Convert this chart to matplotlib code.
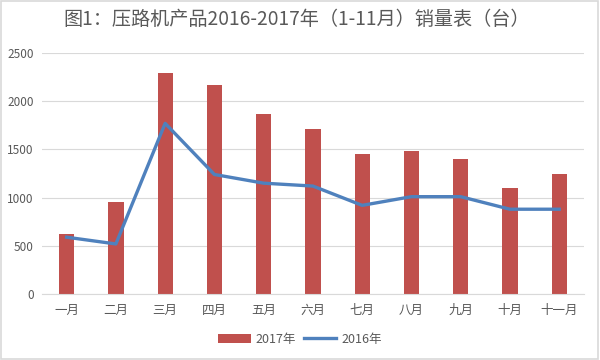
import numpy as np
import matplotlib
matplotlib.use('Agg')
import matplotlib.pyplot as plt

plt.rcParams['font.family'] = ['Noto Sans CJK SC', 'DejaVu Sans']

months = ['一月', '二月', '三月', '四月', '五月', '六月', '七月', '八月', '九月', '十月', '十一月']
sales_2017 = [620, 950, 2290, 2170, 1870, 1710, 1450, 1480, 1400, 1100, 1250]
sales_2016 = [590, 520, 1770, 1240, 1150, 1120, 920, 1010, 1010, 880, 880]

fig = plt.figure(figsize=(6, 3.6), dpi=100)
fig.patch.set_facecolor('white')
# thin grey frame round the picture
fig.patches.append(plt.Rectangle((0.002, 0.003), 0.995, 0.994, transform=fig.transFigure,
                                 fill=False, edgecolor='#D9D9D9', linewidth=1.2))

ax = fig.add_axes([0.07, 0.183, 0.903, 0.67])
x = np.arange(len(months))
bars = ax.bar(x, sales_2017, width=0.31, color='#C0504D', label='2017年', zorder=2)
line, = ax.plot(x, sales_2016, color='#4F81BD', linewidth=2.4, label='2016年', zorder=3,
                solid_joinstyle='round')

ax.set_ylim(0, 2500)
ax.set_xlim(-0.5, len(months) - 0.5)
ax.set_yticks(range(0, 2501, 500))
ax.set_xticks(x)
ax.set_xticklabels(months)
ax.yaxis.grid(True, color='#D9D9D9', linewidth=0.8, zorder=0)
ax.set_axisbelow(True)
for s in ['top', 'right', 'left']:
    ax.spines[s].set_visible(False)
ax.spines['bottom'].set_color('#D9D9D9')
ax.tick_params(axis='both', length=0, colors='#595959', labelsize=8.5)
ax.tick_params(axis='x', pad=7, labelsize=9)
ax.tick_params(axis='y', pad=6)

fig.text(0.495, 0.945, '图1：压路机产品2016-2017年（1-11月）销量表（台）',
         ha='center', va='center', fontsize=13.8, color='#595959')

fig.legend([bars, line], ['2017年', '2016年'], loc='center',
           bbox_to_anchor=(0.5, 0.058), ncol=2, frameon=False,
           fontsize=9, labelcolor='#595959', handlelength=2.6, columnspacing=0.6,
           handletextpad=0.4)

fig.savefig('out.png', dpi=100)
